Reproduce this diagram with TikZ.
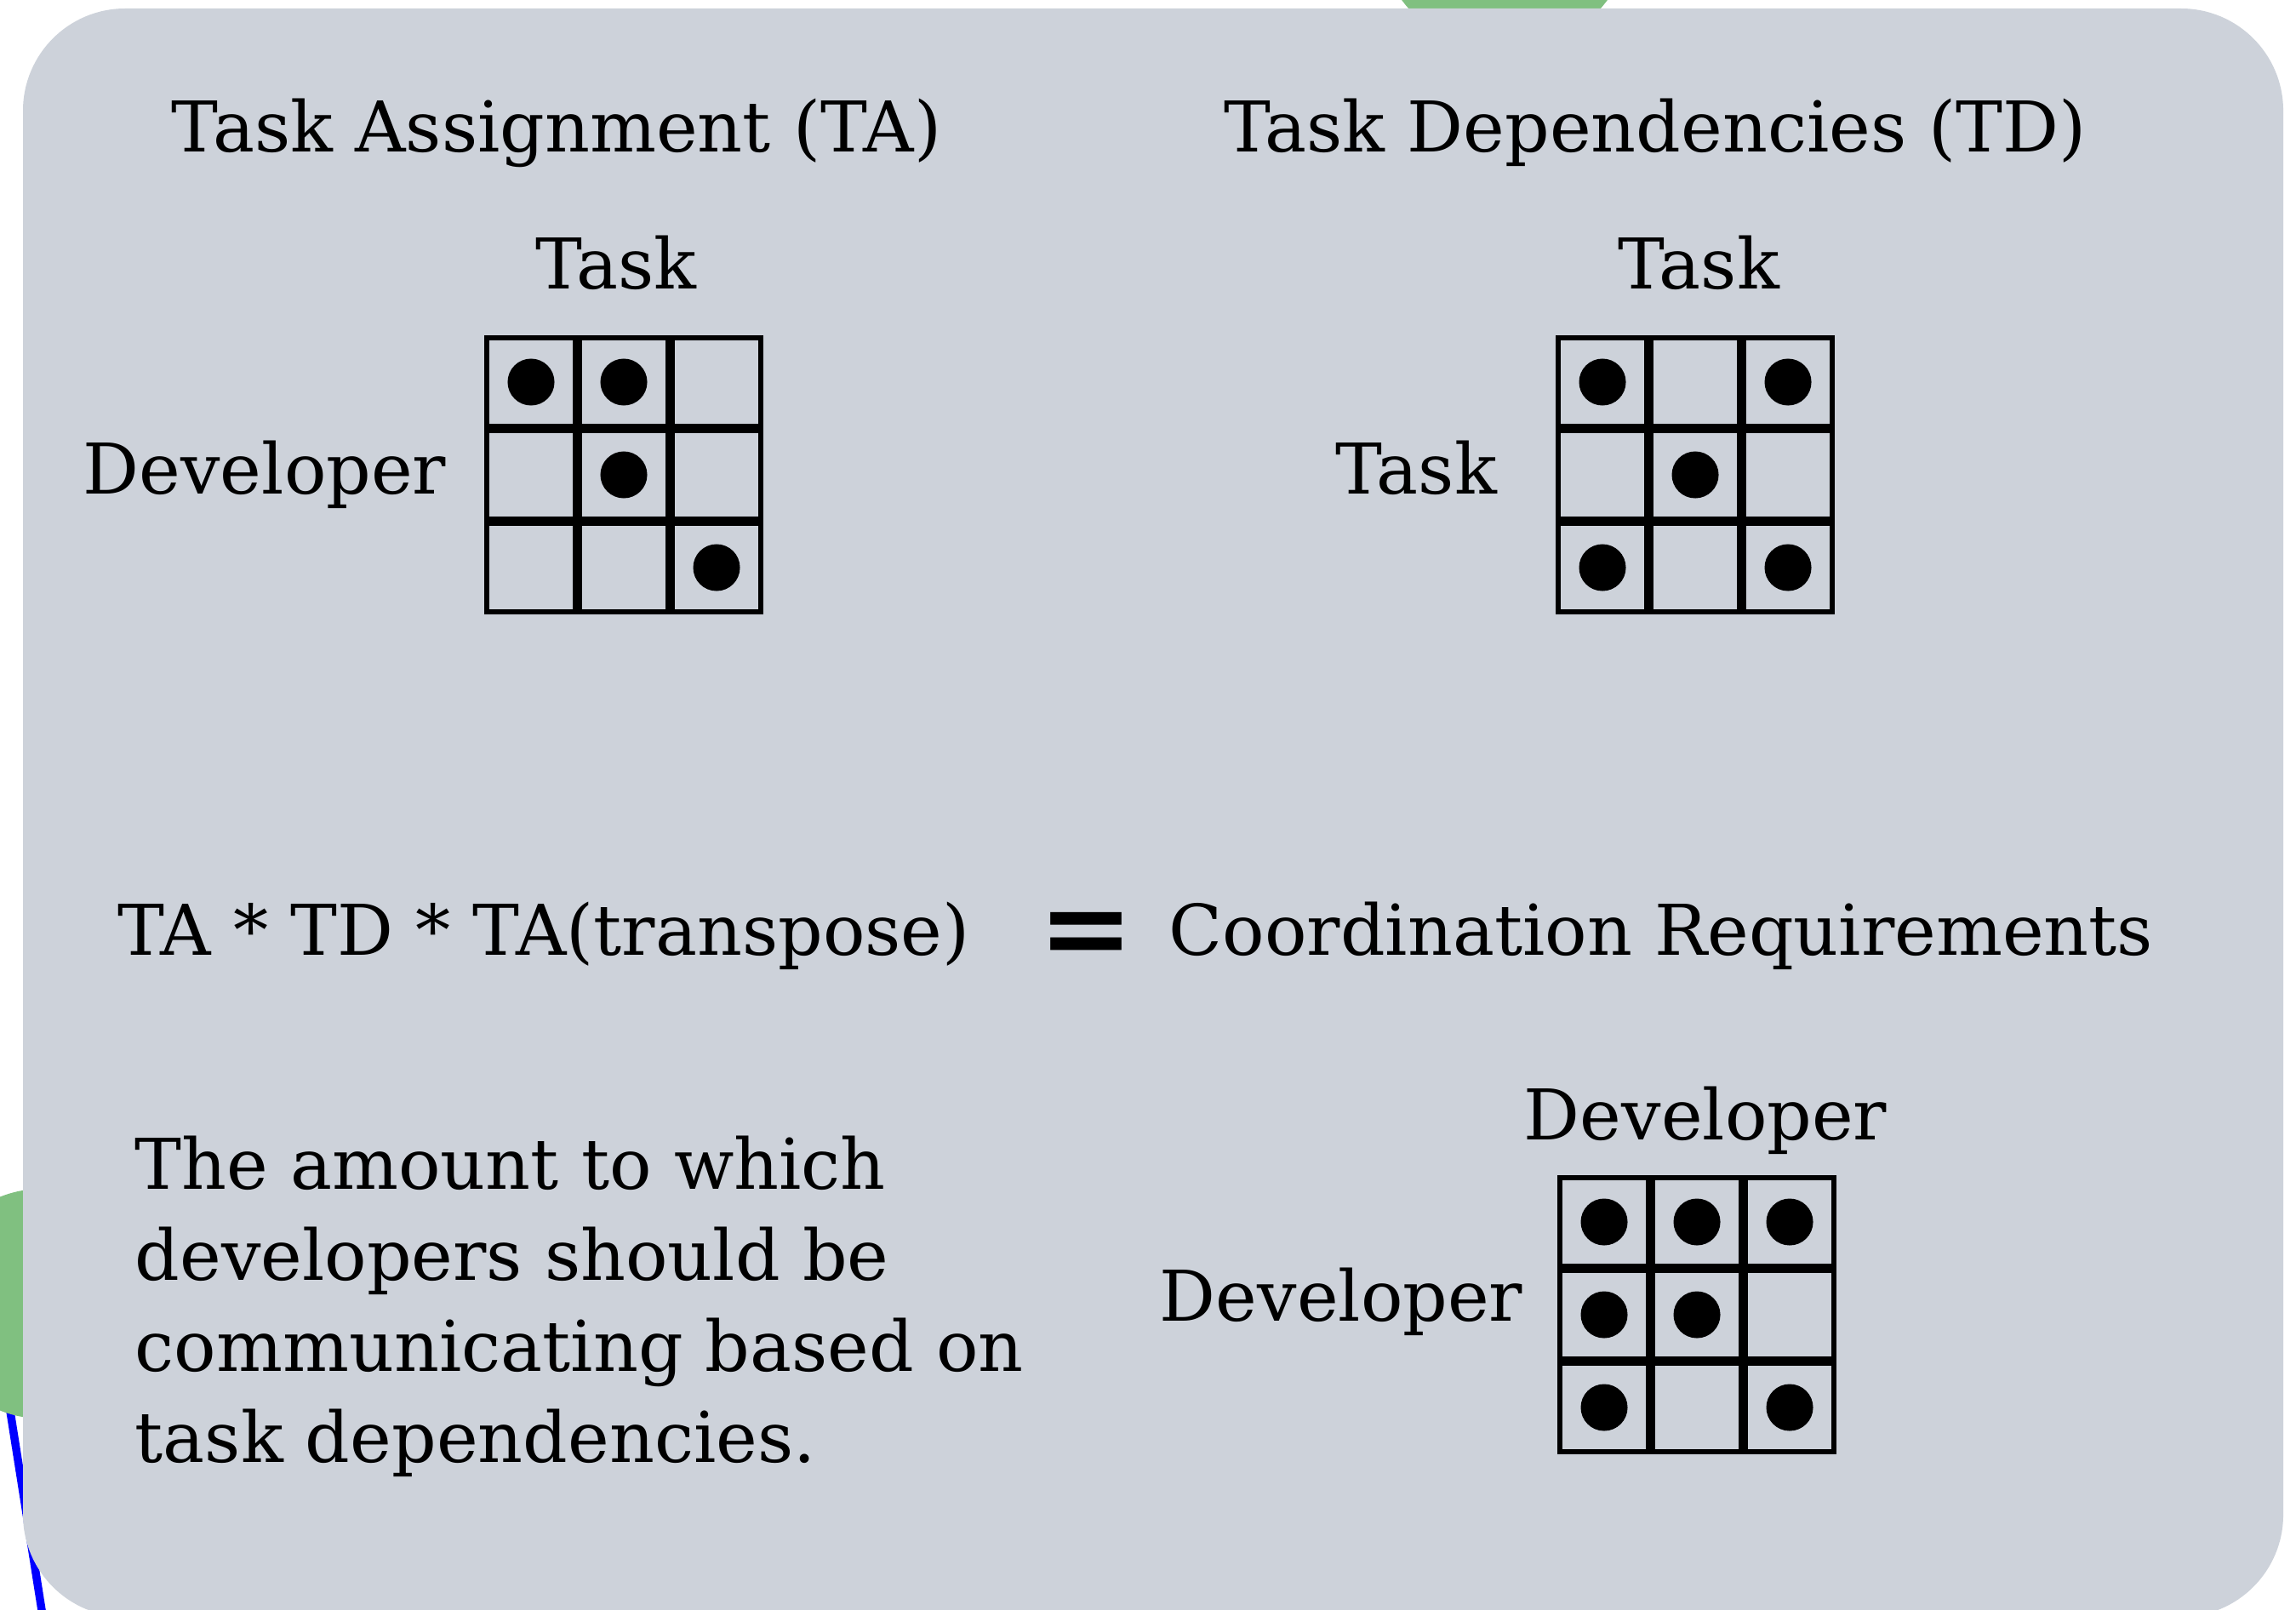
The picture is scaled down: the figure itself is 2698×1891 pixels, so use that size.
\documentclass[tikz,border=0pt]{standalone}
\usepackage{fontspec}
\setmainfont{DejaVu Serif}
\usetikzlibrary{positioning}

\definecolor{panelgray}{RGB}{205,210,218}
\definecolor{blobgreen}{RGB}{128,192,128}

\tikzset{
  txt/.style={font=\fontsize{23.4}{30.4}\selectfont, inner sep=0pt, anchor=base},
  cell/.style={draw=black, line width=0.06cm, minimum size=1.04cm, inner sep=0pt},
  dot/.style={fill=black, circle, minimum size=0.55cm, inner sep=0pt},
}

\begin{document}
\begin{tikzpicture}[x=0.01cm, y=-0.01cm]
\useasboundingbox (0,0) rectangle (2698,1891);
\clip (0,0) rectangle (2698,1891);

% bits of the neighbouring slide
\coordinate (edge-a) at (-8,1532);
\coordinate (edge-b) at (55,1930);
\draw[blue, line width=0.095cm] (edge-a) -- (edge-b);
\fill[blobgreen] (50,1532) circle[radius=1.35cm];
\fill[blobgreen] (1768,-89) circle[radius=1.5cm];

% panel
\fill[panelgray, rounded corners=1.2cm] (27,10) rectangle (2683,1900);

% titles
\node[txt] (ta-title) at (654,179) {Task Assignment (TA)};
\node[txt] (td-title) at (1945,179) {Task Dependencies (TD)};

% TA matrix
\foreach \r in {1,2,3}
  \foreach \c in {1,2,3}
    \node[cell] (ta-\r-\c) at ({624+109*(\c-1)},{449+109*(\r-1)}) {};
\foreach \r/\c in {1/1,1/2,2/2,3/3}
  \node[dot] at (ta-\r-\c) {};
\node[txt] (ta-top) at (724,339) {Task};
\node[txt] (ta-side) at (311,580) {Developer};

% TD matrix
\foreach \r in {1,2,3}
  \foreach \c in {1,2,3}
    \node[cell] (td-\r-\c) at ({1883+109*(\c-1)},{449+109*(\r-1)}) {};
\foreach \r/\c in {1/1,1/3,2/2,3/1,3/3}
  \node[dot] at (td-\r-\c) {};
\node[txt] (td-top) at (1996,339) {Task};
\node[txt] (td-side) at (1664,580) {Task};

% equation
\node[txt] (product) at (639,1122) {TA * TD * TA(transpose)};
\node[font=\fontsize{38}{38}\selectfont\bfseries, inner sep=0pt] (equals) at (1276,1104) {=};
\node[txt] (result) at (1952,1122) {Coordination Requirements};

% last line's baseline
\node[txt, anchor=base west, align=left] (meaning) at (158,1718)
  {The amount to which\\developers should be\\communicating based on\\task dependencies.};

% CR matrix
\foreach \r in {1,2,3}
  \foreach \c in {1,2,3}
    \node[cell] (cr-\r-\c) at ({1885+109*(\c-1)},{1436+109*(\r-1)}) {};
\foreach \r/\c in {1/1,1/2,1/3,2/1,2/2,3/1,3/3}
  \node[dot] at (cr-\r-\c) {};
\node[txt] (cr-top) at (2004,1339) {Developer};
\node[txt] (cr-side) at (1576,1552) {Developer};
\end{tikzpicture}
\end{document}
